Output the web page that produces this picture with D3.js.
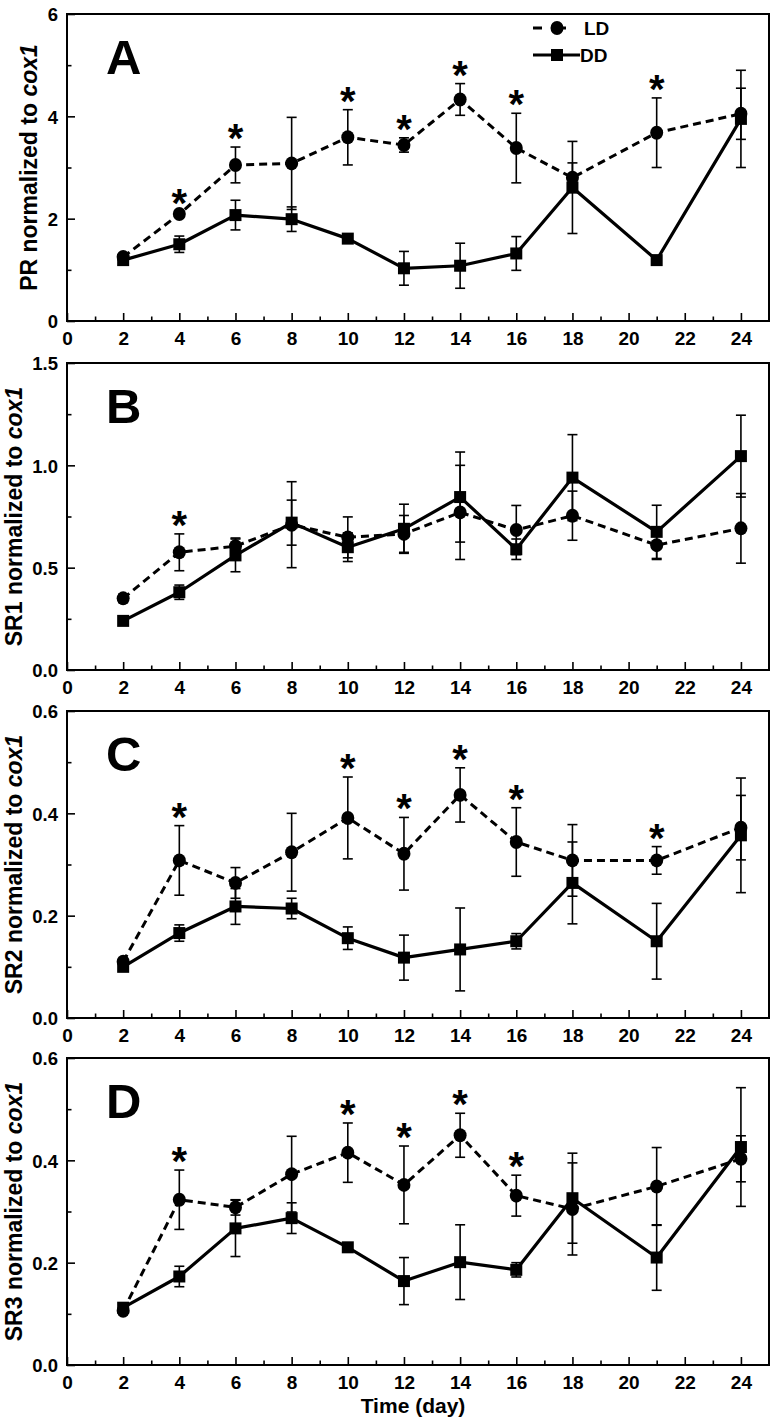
<!DOCTYPE html>
<html><head><meta charset="utf-8">
<script src="https://cdn.jsdelivr.net/npm/d3@7"></script>
<style>
html,body{margin:0;padding:0;background:#fff;}
svg{display:block;font-family:"Liberation Sans",Arial,sans-serif;}
</style></head>
<body><svg id="c" width="778" height="1423"></svg>
<script>
const days = [2,4,6,8,10,12,14,16,18,21,24];
const xTicks = [0,2,4,6,8,10,12,14,16,18,20,22,24];

// Panel A (PR)
const prLD    = [1.25,2.09,3.05,3.08,3.59,3.44,4.33,3.38,2.80,3.68,4.05];
const prLDerr = [0.05,0.05,0.35,0.90,0.54,0.14,0.31,0.68,0.29,0.68,0.50];
const prDD    = [1.19,1.50,2.07,1.99,1.61,1.03,1.08,1.32,2.61,1.19,3.95];
const prDDerr = [0.05,0.16,0.29,0.24,0.05,0.33,0.44,0.33,0.90,0.08,0.95];
const prStars = [4,6,10,12,14,16,21];
const prTicks = [0,2,4,6];

// Panel B (SR1)
const sr1LD    = [0.35,0.575,0.605,0.71,0.648,0.665,0.77,0.684,0.754,0.61,0.692];
const sr1LDerr = [0.02,0.09,0.04,0.21,0.10,0.09,0.23,0.12,0.12,0.07,0.17];
const sr1DD    = [0.24,0.38,0.56,0.72,0.60,0.69,0.845,0.59,0.94,0.675,1.045];
const sr1DDerr = [0.01,0.035,0.08,0.11,0.07,0.12,0.22,0.05,0.21,0.13,0.20];
const sr1Stars = [4];
const sr1Ticks = [0,0.5,1.0,1.5];

// Panel C (SR2)
const sr2LD    = [0.11,0.308,0.264,0.324,0.391,0.321,0.436,0.344,0.308,0.308,0.372];
const sr2LDerr = [0.005,0.068,0.03,0.076,0.08,0.071,0.053,0.067,0.07,0.027,0.063];
const sr2DD    = [0.10,0.166,0.218,0.214,0.156,0.118,0.134,0.15,0.264,0.15,0.357];
const sr2DDerr = [0.005,0.016,0.035,0.02,0.022,0.044,0.081,0.015,0.08,0.074,0.112];
const sr2Stars = [4,10,12,14,16,21];
const sr2Ticks = [0,0.2,0.4,0.6];

// Panel D (SR3)
const sr3LD    = [0.106,0.323,0.308,0.373,0.415,0.352,0.449,0.331,0.305,0.349,0.403];
const sr3LDerr = [0.005,0.058,0.015,0.074,0.058,0.076,0.043,0.04,0.09,0.076,0.045];
const sr3DD    = [0.112,0.173,0.267,0.287,0.23,0.164,0.201,0.186,0.326,0.21,0.426];
const sr3DDerr = [0.005,0.02,0.055,0.03,0.007,0.046,0.073,0.014,0.088,0.064,0.116];
const sr3Stars = [4,10,12,14,16];
const sr3Ticks = [0,0.2,0.4,0.6];

const panels = [
  {letter:"A", gene:"PR",  ld:prLD,  lde:prLDerr,  dd:prDD,  dde:prDDerr,  stars:prStars,  ticks:prTicks,  fmt:d3.format("d"),  top:14},
  {letter:"B", gene:"SR1", ld:sr1LD, lde:sr1LDerr, dd:sr1DD, dde:sr1DDerr, stars:sr1Stars, ticks:sr1Ticks, fmt:d3.format(".1f"), top:363},
  {letter:"C", gene:"SR2", ld:sr2LD, lde:sr2LDerr, dd:sr2DD, dde:sr2DDerr, stars:sr2Stars, ticks:sr2Ticks, fmt:d3.format(".1f"), top:711},
  {letter:"D", gene:"SR3", ld:sr3LD, lde:sr3LDerr, dd:sr3DD, dde:sr3DDerr, stars:sr3Stars, ticks:sr3Ticks, fmt:d3.format(".1f"), top:1058}
];

const svg = d3.select("#c");
const L = 67, R = 769, H = 307;
const x = d3.scaleLinear().domain([0,25]).range([L,R]);
const xMinor = d3.range(1,25,2);

panels.forEach((p,pi)=>{
  const T = p.top, B = T+H;
  const ymax = p.ticks[p.ticks.length-1];
  const y = d3.scaleLinear().domain([0,ymax]).range([B,T]);
  const step = p.ticks[1]-p.ticks[0];
  const yMinor = p.ticks.slice(0,-1).map(t=>t+step/2);
  const g = svg.append("g");

  // frame
  g.append("rect").attr("x",L).attr("y",T).attr("width",R-L).attr("height",H)
    .attr("fill","none").attr("stroke","#000").attr("stroke-width",2);

  // x axis (inward ticks)
  const xa = d3.axisBottom(x).tickValues(xTicks).tickSize(-8).tickPadding(0).tickFormat(d3.format("d"));
  const xg = g.append("g").attr("transform",`translate(0,${B})`).call(xa);
  xg.select(".domain").remove();
  xg.selectAll(".tick line").attr("stroke-width",1.6);
  xg.selectAll(".tick text").attr("y",24).attr("dy",null)
    .style("font-size","19px").style("font-weight","bold").attr("fill","#000");
  const xm = d3.axisBottom(x).tickValues(xMinor).tickSize(-4.5).tickFormat("");
  const xmg = g.append("g").attr("transform",`translate(0,${B})`).call(xm);
  xmg.select(".domain").remove();
  xmg.selectAll(".tick line").attr("stroke-width",1.6);

  // y axis (inward ticks)
  const ya = d3.axisLeft(y).tickValues(p.ticks).tickSize(-8).tickPadding(0).tickFormat(p.fmt);
  const yg = g.append("g").attr("transform",`translate(${L},0)`).call(ya);
  yg.select(".domain").remove();
  yg.selectAll(".tick line").attr("stroke-width",1.6);
  yg.selectAll(".tick text").attr("x",-9).attr("dy","0.36em")
    .style("font-size","18.5px").style("font-weight","bold").attr("fill","#000");
  const ym = d3.axisLeft(y).tickValues(yMinor).tickSize(-4.5).tickFormat("");
  const ymg = g.append("g").attr("transform",`translate(${L},0)`).call(ym);
  ymg.select(".domain").remove();
  ymg.selectAll(".tick line").attr("stroke-width",1.6);

  // widest tick label -> title position
  let maxW = 0;
  yg.selectAll(".tick text").each(function(){ maxW = Math.max(maxW, this.getBBox().width); });
  const titleX = L - 9 - maxW - 10;

  // y title
  const yt = g.append("text")
    .attr("transform",`translate(${titleX},${(T+B)/2}) rotate(-90)`)
    .attr("text-anchor","middle").style("font-size","23px").style("font-weight","bold");
  yt.append("tspan").text(p.gene+" normalized to ");
  yt.append("tspan").style("font-style","italic").text("cox1");

  // panel letter
  g.append("text").attr("x",106).attr("y",T+60)
    .style("font-size","49px").style("font-weight","bold").text(p.letter);

  const ldPts = days.map((d,i)=>({d, v:p.ld[i], e:p.lde[i]}));
  const ddPts = days.map((d,i)=>({d, v:p.dd[i], e:p.dde[i]}));
  const line = d3.line().x(q=>x(q.d)).y(q=>y(q.v));

  g.append("path").datum(ldPts).attr("d",line).attr("fill","none")
    .attr("stroke","#000").attr("stroke-width",3).attr("stroke-dasharray","8,5");
  g.append("path").datum(ddPts).attr("d",line).attr("fill","none")
    .attr("stroke","#000").attr("stroke-width",3.2).attr("stroke-linejoin","round");

  // error bars
  [ldPts, ddPts].forEach(pts=>{
    const eb = g.append("g").attr("stroke","#000").attr("stroke-width",1.6);
    eb.selectAll("line.v").data(pts).join("line")
      .attr("x1",q=>x(q.d)).attr("x2",q=>x(q.d))
      .attr("y1",q=>y(q.v+q.e)).attr("y2",q=>y(q.v-q.e));
    eb.selectAll("line.t").data(pts).join("line")
      .attr("x1",q=>x(q.d)-5).attr("x2",q=>x(q.d)+5)
      .attr("y1",q=>y(q.v+q.e)).attr("y2",q=>y(q.v+q.e));
    eb.selectAll("line.b").data(pts).join("line")
      .attr("x1",q=>x(q.d)-5).attr("x2",q=>x(q.d)+5)
      .attr("y1",q=>y(q.v-q.e)).attr("y2",q=>y(q.v-q.e));
  });

  // markers
  g.selectAll("ellipse.ld").data(ldPts).join("ellipse")
    .attr("cx",q=>x(q.d)).attr("cy",q=>y(q.v)).attr("rx",6.5).attr("ry",7).attr("fill","#000");
  g.selectAll("rect.dd").data(ddPts).join("rect")
    .attr("x",q=>x(q.d)-6).attr("y",q=>y(q.v)-6).attr("width",12).attr("height",12).attr("fill","#000");

  // stars
  g.selectAll("text.star").data(p.stars).join("text")
    .attr("x",d=>x(d)).attr("text-anchor","middle")
    .attr("y",d=>{const i=days.indexOf(d); return y(p.ld[i]+p.lde[i]) - 16 + 21;})
    .style("font-size","40px").style("font-weight","bold").text("*");

  // legend in panel A
  if(pi===0){
    const lg = g.append("g");
    lg.append("line").attr("x1",533).attr("x2",580).attr("y1",T+14).attr("y2",T+14)
      .attr("stroke","#000").attr("stroke-width",3).attr("stroke-dasharray","9,15");
    lg.append("ellipse").attr("cx",557).attr("cy",T+14).attr("rx",6.5).attr("ry",7).attr("fill","#000");
    lg.append("text").attr("x",584).attr("y",T+21).style("font-size","19px").style("font-weight","bold").text("LD");
    lg.append("line").attr("x1",533).attr("x2",580).attr("y1",T+41).attr("y2",T+41)
      .attr("stroke","#000").attr("stroke-width",3);
    lg.append("rect").attr("x",551).attr("y",T+35).attr("width",12).attr("height",12).attr("fill","#000");
    lg.append("text").attr("x",580).attr("y",T+48).style("font-size","19px").style("font-weight","bold").text("DD");
  }
});

// x title
svg.append("text").attr("x",413).attr("y",1413).attr("text-anchor","middle")
  .style("font-size","21px").style("font-weight","bold").text("Time (day)");
</script></body></html>
